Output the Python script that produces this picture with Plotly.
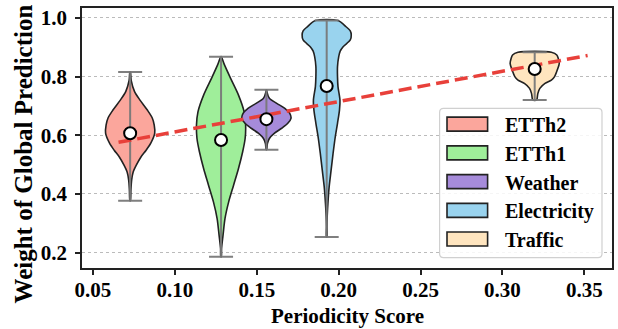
import plotly.graph_objects as go

# ---------------- data ----------------
datasets = ["ETTh2", "ETTh1", "Weather", "Electricity", "Traffic"]
periodicity = [0.0727, 0.1282, 0.1559, 0.1927, 0.3197]
medians = [0.607, 0.584, 0.655, 0.768, 0.826]
w_max = [0.816, 0.868, 0.755, 0.991, 0.883]
w_min = [0.377, 0.186, 0.551, 0.253, 0.720]

# density profiles (weight value, relative density 0..1), bottom -> top
etth2_y = [0.377, 0.413, 0.447, 0.474, 0.498, 0.526, 0.549, 0.573, 0.607, 0.635, 0.659, 0.686, 0.720, 0.749, 0.788, 0.816]
etth2_d = [0.01, 0.03, 0.06, 0.12, 0.25, 0.44, 0.65, 0.84, 1.0, 0.98, 0.90, 0.70, 0.40, 0.18, 0.04, 0.01]
etth1_y = [0.186, 0.214, 0.259, 0.316, 0.373, 0.430, 0.487, 0.544, 0.589, 0.635, 0.680, 0.737, 0.794, 0.840, 0.868]
etth1_d = [0.01, 0.02, 0.08, 0.16, 0.31, 0.51, 0.71, 0.88, 0.98, 1.0, 0.94, 0.71, 0.39, 0.14, 0.01]
weather_y = [0.551, 0.572, 0.589, 0.607, 0.624, 0.641, 0.658, 0.675, 0.692, 0.709, 0.726, 0.748, 0.755]
weather_d = [0.01, 0.04, 0.12, 0.33, 0.62, 0.87, 1.0, 0.95, 0.75, 0.42, 0.12, 0.02, 0.01]
elec_y = [0.253, 0.288, 0.322, 0.368, 0.424, 0.481, 0.538, 0.595, 0.641, 0.686, 0.720, 0.766, 0.800, 0.834, 0.868, 0.887, 0.902, 0.925, 0.942, 0.956, 0.970, 0.991]
elec_d = [0.01, 0.01, 0.02, 0.05, 0.10, 0.18, 0.26, 0.35, 0.44, 0.52, 0.54, 0.46, 0.44, 0.44, 0.49, 0.55, 0.67, 0.96, 1.0, 0.96, 0.79, 0.46]
traffic_y = [0.720, 0.726, 0.743, 0.760, 0.777, 0.788, 0.800, 0.823, 0.845, 0.862, 0.874, 0.883]
traffic_d = [0.08, 0.10, 0.13, 0.21, 0.42, 0.68, 0.81, 0.92, 1.0, 0.96, 0.90, 0.68]

profiles_y = [etth2_y, etth1_y, weather_y, elec_y, traffic_y]
profiles_d = [etth2_d, etth1_d, weather_d, elec_d, traffic_d]

# trend line (read endpoints)
trend_x = [0.0656, 0.352]
trend_y = [0.576, 0.872]

x_ticks = [0.05, 0.10, 0.15, 0.20, 0.25, 0.30, 0.35]
y_ticks = [0.2, 0.4, 0.6, 0.8, 1.0]
x_title = "Periodicity Score"
y_title = "Weight of Global Prediction"

# ---------------- styles ----------------
colors = ["#FBA69C", "#9FEE9A", "#A68BDA", "#99D3EE", "#FFE5BF"]
HALF_W = 0.0150  # max half-width of a violin, in x units
FONT = "Liberation Serif"

W, H = 618, 329
L, R, T, B = 81.7, 611.7, 8, 267.7  # plot area in pixels

fig = go.Figure()

for name, c, ys, ds, col in zip(datasets, periodicity, profiles_y, profiles_d, colors):
    xs = [c + d * HALF_W for d in ds] + [c - d * HALF_W for d in reversed(ds)]
    yy = list(ys) + list(reversed(ys))
    xs.append(xs[0]); yy.append(yy[0])
    fig.add_trace(go.Scatter(
        x=xs, y=yy, mode="lines", fill="toself", fillcolor=col,
        line=dict(color="#222222", width=1.6, shape="spline", smoothing=0.8),
        name=name, showlegend=False, hoverinfo="skip"))

# extrema lines with caps
fig.add_trace(go.Scatter(
    x=periodicity, y=medians, mode="markers", marker=dict(size=1, opacity=0),
    error_y=dict(type="data", symmetric=False,
                 array=[mx - m for mx, m in zip(w_max, medians)],
                 arrayminus=[m - mn for mn, m in zip(w_min, medians)],
                 color="rgba(120,120,120,0.95)", thickness=2, width=12),
    showlegend=False, hoverinfo="skip"))

# trend line
fig.add_trace(go.Scatter(
    x=trend_x, y=trend_y, mode="lines",
    line=dict(color="#E8403A", width=3.5, dash="13px,6px"),
    showlegend=False, hoverinfo="skip"))

# medians
fig.add_trace(go.Scatter(
    x=periodicity, y=medians, mode="markers",
    marker=dict(size=12, color="white", line=dict(color="black", width=2)),
    showlegend=False, hoverinfo="skip"))

# ---------------- custom legend ----------------
def px_x(p):
    return (p - L) / (R - L)

def px_y(p):
    return (B - p) / (B - T)

shapes = []
annotations = []
lx0, lx1, ly0, ly1 = 439.3, 601.7, 108.3, 257.3
rad = 4
path = (f"M {px_x(lx0+rad)},{px_y(ly0)} L {px_x(lx1-rad)},{px_y(ly0)} "
        f"Q {px_x(lx1)},{px_y(ly0)} {px_x(lx1)},{px_y(ly0+rad)} "
        f"L {px_x(lx1)},{px_y(ly1-rad)} Q {px_x(lx1)},{px_y(ly1)} {px_x(lx1-rad)},{px_y(ly1)} "
        f"L {px_x(lx0+rad)},{px_y(ly1)} Q {px_x(lx0)},{px_y(ly1)} {px_x(lx0)},{px_y(ly1-rad)} "
        f"L {px_x(lx0)},{px_y(ly0+rad)} Q {px_x(lx0)},{px_y(ly0)} {px_x(lx0+rad)},{px_y(ly0)} Z")
shapes.append(dict(type="path", xref="paper", yref="paper", path=path,
                   fillcolor="rgba(255,255,255,0.85)", line=dict(color="#D0D0D0", width=1.2),
                   layer="above"))
row_y = [124.0, 152.7, 181.4, 210.1, 238.8]
for name, col, yc in zip(datasets, colors, row_y):
    shapes.append(dict(type="rect", xref="paper", yref="paper",
                       x0=px_x(446.7), x1=px_x(487.3), y0=px_y(yc + 7), y1=px_y(yc - 7),
                       fillcolor=col, line=dict(color="#222222", width=1.6), layer="above"))
    annotations.append(dict(xref="paper", yref="paper", x=px_x(503), y=px_y(yc + 1),
                            xanchor="left", yanchor="middle", showarrow=False, text=name,
                            font=dict(family=FONT, size=20, color="black", weight="bold")))

# axis titles as annotations for exact placement
annotations.append(dict(xref="paper", yref="paper", x=px_x(346.7), y=px_y(315.5),
                        xanchor="center", yanchor="middle", showarrow=False, text=x_title,
                        font=dict(family=FONT, size=21, color="black", weight="bold")))
annotations.append(dict(xref="paper", yref="paper", x=px_x(23), y=px_y(154),
                        xanchor="center", yanchor="middle", showarrow=False, text=y_title,
                        textangle=-90,
                        font=dict(family=FONT, size=25, color="black", weight="bold")))

fig.update_layout(
    width=W, height=H,
    margin=dict(l=L, r=W - R, t=T, b=H - B, autoexpand=False),
    paper_bgcolor="white", plot_bgcolor="white",
    shapes=shapes, annotations=annotations,
    showlegend=False,
    font=dict(family=FONT, color="black"),
)
fig.update_xaxes(
    range=[0.0433, 0.3669], tickvals=x_ticks, tickformat=".2f",
    showgrid=False, zeroline=False, automargin=False,
    showline=True, mirror=True, linecolor="#222222", linewidth=1.5,
    ticks="outside", ticklen=5, tickwidth=1.5, tickcolor="#222222",
    ticklabelstandoff=-3,
    tickfont=dict(family=FONT, size=21, color="black", weight="bold"),
)
fig.update_yaxes(
    range=[0.1475, 1.034], tickvals=y_ticks, tickformat=".1f",
    showgrid=True, gridcolor="#BBBBBB", gridwidth=0.8, griddash="dot",
    zeroline=False, automargin=False,
    showline=True, mirror=True, linecolor="#222222", linewidth=1.5,
    ticks="outside", ticklen=5, tickwidth=1.5, tickcolor="#222222",
    ticklabelstandoff=4,
    tickfont=dict(family=FONT, size=21, color="black", weight="bold"),
)

fig.write_html("out.html", config={"displayModeBar": False},
               post_script="document.body.style.margin='0';document.body.style.overflow='hidden';")
